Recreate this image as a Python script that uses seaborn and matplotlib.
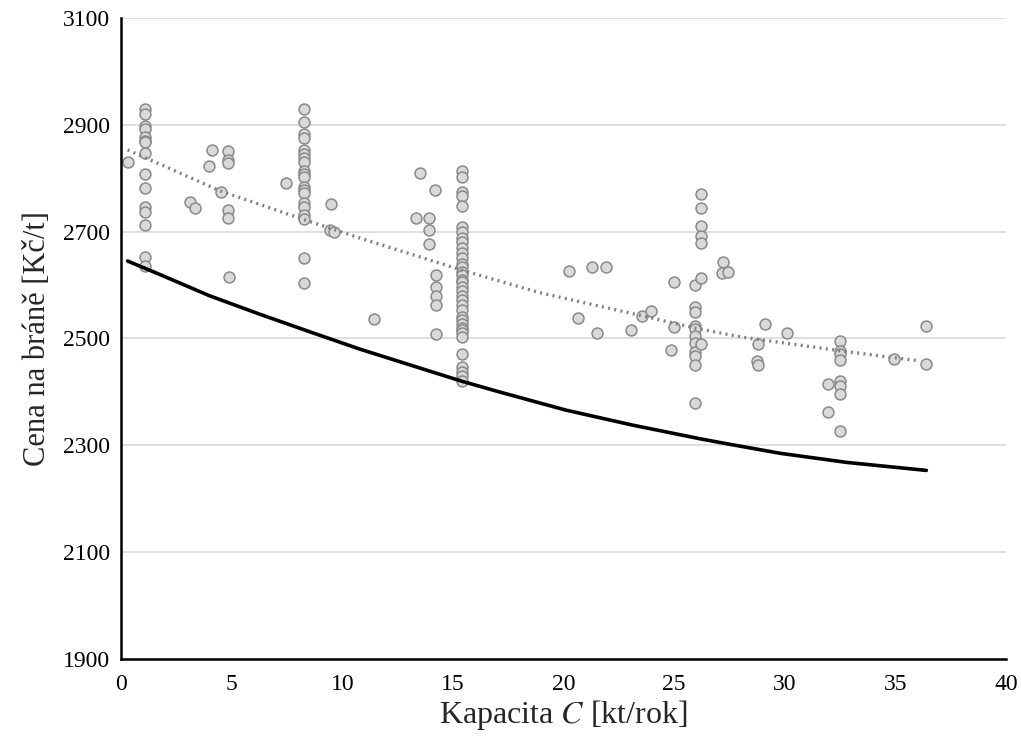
import matplotlib
matplotlib.use("Agg")
import matplotlib.pyplot as plt
import seaborn as sns
import pandas as pd

# observed plants: capacity [kt/rok] and gate price [Kc/t]
cap = ([0.3] + [1.1] * 15 + [4.1, 4.0, 4.85, 4.85, 4.85, 4.5, 3.1, 3.35, 4.85, 4.85, 4.9]
       + [8.26] * 20 + [7.45, 9.5, 9.45, 9.65]
       + [11.45, 13.5, 14.2, 13.35, 13.9, 13.9, 13.9, 14.25, 14.25, 14.25, 14.25, 14.25]
       + [15.4] * 36
       + [20.25, 21.3, 21.9, 20.65, 21.5, 23.05, 23.55, 23.95, 25.0, 25.0, 24.85]
       + [25.95] * 11 + [26.2] * 7
       + [27.2, 27.15, 27.45, 28.8, 29.1, 28.75, 28.8, 30.1]
       + [32.5] * 8 + [31.95, 31.95, 34.95, 36.4, 36.4])
price = ([2831]
         + [2929, 2920, 2897, 2892, 2878, 2870, 2867, 2848, 2808, 2782, 2746, 2737, 2713, 2653, 2636]
         + [2852, 2823, 2851, 2835, 2829, 2775, 2755, 2745, 2741, 2725, 2616]
         + [2929, 2906, 2883, 2876, 2853, 2845, 2837, 2831, 2814, 2807, 2802, 2784, 2778, 2772,
            2753, 2747, 2731, 2723, 2650, 2603]
         + [2792, 2752, 2703, 2700]
         + [2536, 2809, 2778, 2726, 2726, 2704, 2677, 2619, 2597, 2580, 2563, 2508]
         + [2814, 2803, 2775, 2767, 2748, 2709, 2700, 2689, 2681, 2669, 2660, 2650, 2640, 2634,
            2625, 2619, 2610, 2606, 2597, 2588, 2580, 2572, 2563, 2553, 2541, 2535, 2528, 2520,
            2516, 2510, 2503, 2471, 2447, 2438, 2429, 2420]
         + [2627, 2633, 2634, 2539, 2511, 2515, 2543, 2552, 2605, 2522, 2478]
         + [2600, 2558, 2550, 2523, 2517, 2505, 2492, 2475, 2467, 2450, 2380]
         + [2771, 2744, 2711, 2692, 2678, 2613, 2489]
         + [2643, 2622, 2625, 2490, 2527, 2457, 2450, 2510]
         + [2495, 2477, 2471, 2459, 2420, 2411, 2396, 2326]
         + [2414, 2362, 2462, 2523, 2452])

# trend of observed prices (dotted)
trend_x = [0.3, 4.5, 8.25, 10.8, 15.4, 18.9, 23.5, 26.0, 28.0, 32.5, 36.1]
trend_y = [2853, 2776, 2723, 2688, 2628, 2586, 2543, 2519, 2503, 2477, 2458]

# model curve (solid black)
model_x = [0.3, 1.8, 4.0, 6.3, 8.5, 10.8, 13.1, 15.4, 17.1, 20.1, 23.1, 26.2, 27.5, 29.8, 32.8, 36.4]
model_y = [2645, 2619, 2580, 2545, 2513, 2480, 2450, 2420, 2400, 2366, 2338, 2312, 2302, 2285, 2268, 2253]

pts = pd.DataFrame({"C": cap, "cena": price})
trend = pd.DataFrame({"C": trend_x, "cena": trend_y})
model = pd.DataFrame({"C": model_x, "cena": model_y})

sns.set_theme(style="white")
plt.rcParams["font.family"] = ["Liberation Serif", "DejaVu Serif"]
plt.rcParams["mathtext.fontset"] = "stix"

fig = plt.figure(figsize=(10.21, 7.4), dpi=100)
ax = fig.add_axes([0.1185, 0.1095, 0.8668, 0.8662])

sns.lineplot(data=trend, x="C", y="cena", ax=ax, color="#808080", lw=2.4,
             linestyle=(0, (0.6, 1.3)), zorder=3)
sns.scatterplot(data=pts, x="C", y="cena", ax=ax, s=62, color="#d9d9d9",
                edgecolor="#8a8a8a", linewidth=1.1, zorder=2)
sns.lineplot(data=model, x="C", y="cena", ax=ax, color="black", lw=2.6, zorder=4)

ax.set_xlim(0, 40)
ax.set_ylim(1900, 3100)
ax.set_xticks(range(0, 41, 5))
ax.set_yticks(range(1900, 3101, 200))
ax.yaxis.grid(True, color="#d9d9d9", lw=1.2)
ax.set_axisbelow(True)
ax.tick_params(axis="both", labelsize=17, length=0, colors="black")
ax.tick_params(axis="x", pad=11)
ax.tick_params(axis="y", pad=8)

for s in ["top", "right"]:
    ax.spines[s].set_visible(False)
for s in ["left", "bottom"]:
    ax.spines[s].set_color("black")
    ax.spines[s].set_linewidth(1.8)

ax.set_xlabel(r"Kapacita $\mathit{C}$ [kt/rok]", fontsize=23, labelpad=2)
ax.set_ylabel("Cena na bráně [Kč/t]", fontsize=22, labelpad=8)

fig.savefig("out.png", dpi=100)
